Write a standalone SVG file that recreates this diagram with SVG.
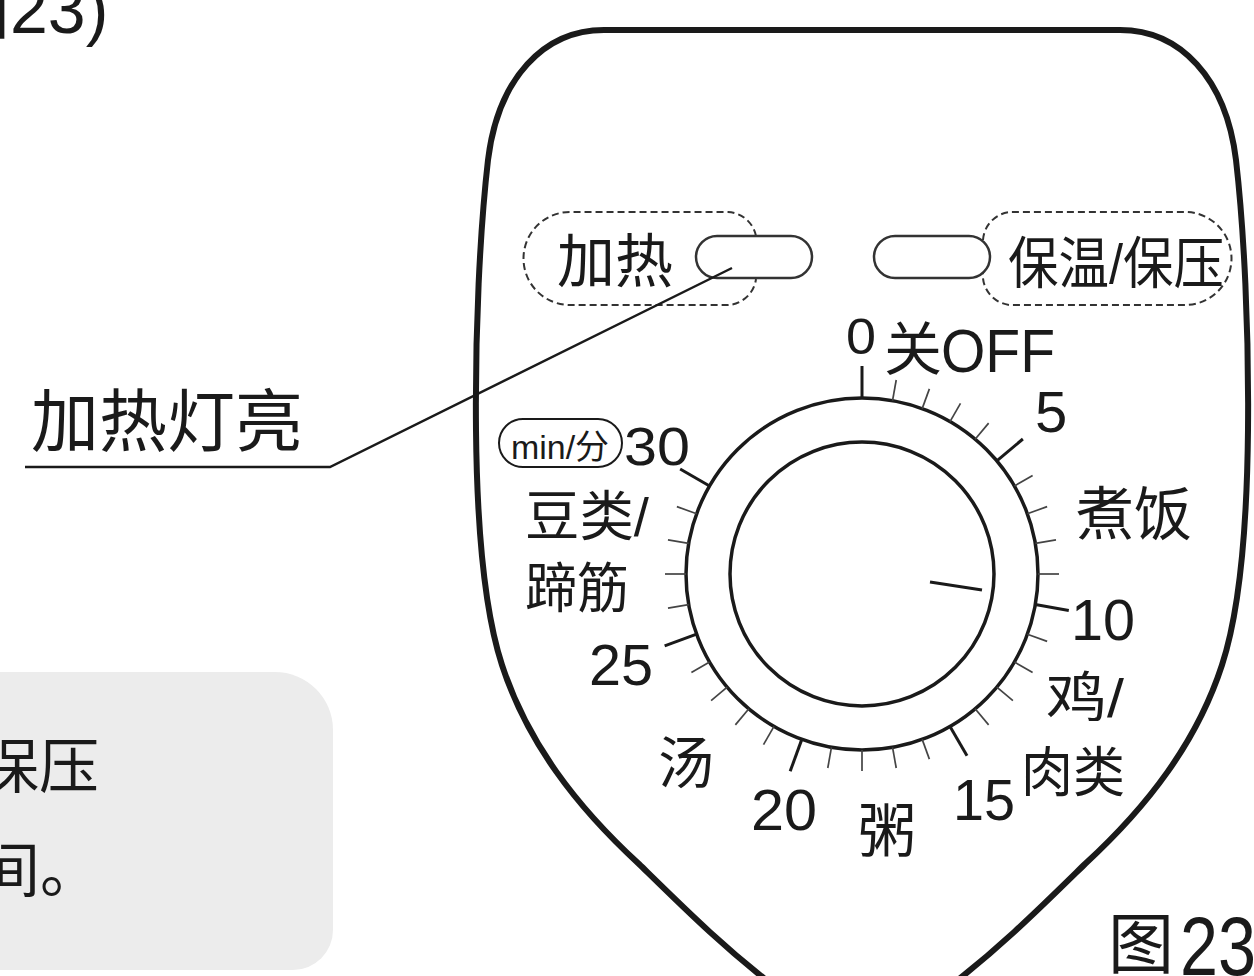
<svg xmlns="http://www.w3.org/2000/svg" width="1254" height="976" viewBox="0 0 1254 976">
<style>
.outline{fill:none;stroke:#1a1a1a;stroke-width:6;stroke-linejoin:round}
.ring{fill:none;stroke:#1a1a1a;stroke-width:3.5}
.major{stroke:#1a1a1a;stroke-width:3}
.minor{stroke:#444;stroke-width:1.7}
.dash{fill:none;stroke:#333;stroke-width:2;stroke-dasharray:7 4}
.pill{fill:#fff;stroke:#333;stroke-width:2.5}
.lead{fill:none;stroke:#1a1a1a;stroke-width:2.5}
.num{font-family:"Liberation Sans",Arial,"Noto Sans CJK SC",sans-serif;fill:#1a1a1a}
.cjk{font-family:"Noto Sans CJK SC","Liberation Sans",sans-serif;fill:#1a1a1a}
.mix{font-family:"Liberation Sans","Noto Sans CJK SC",sans-serif;fill:#1a1a1a}
</style>
<rect width="1254" height="976" fill="#fff"/>

<g id="note-box">
<path d="M -10,672 L 275,672 A 58 58 0 0 1 333,730 L 333,930 A 40 40 0 0 1 293,970 L -10,970 Z" fill="#ececec"/>
<text class="cjk" x="-21" y="788" font-size="60">保压</text>
<text class="cjk" x="-20" y="892" font-size="60">间。</text>
</g>

<g id="top-ref">
<text class="mix" x="-58" y="33" font-size="68">图23)</text>
</g>

<g id="panel">
<path class="outline" d="M 605,30 L 1120,30 C 1180,30 1226,78 1236,160 C 1244,230 1249,330 1248,430 C 1247,530 1240,610 1222,665 C 1197,742 1148,806 1085,864 C 1040,908 1000,948 945,990 L 779,990 C 724,948 684,908 639,864 C 576,806 527,742 502,665 C 484,610 477,530 476,430 C 475,330 480,230 488,160 C 498,78 544,30 604,30 Z"/>
</g>

<g id="heat-indicator">
<path class="dash" d="M 756,236 A 30 30 0 0 0 728,212 L 570,212 A 46.5 46.5 0 0 0 570,305 L 728,305 A 30 30 0 0 0 756,279"/>
<rect class="pill" x="696" y="236" width="116" height="42" rx="21"/>
<text class="cjk" x="557" y="282" font-size="58">加热</text>
</g>

<g id="warm-indicator">
<path class="dash" d="M 983,240 A 30 30 0 0 1 1010,212 L 1185,212 A 46.5 46.5 0 0 1 1185,305 L 1010,305 A 30 30 0 0 1 983,272"/>
<rect class="pill" x="874" y="236" width="116" height="42" rx="21"/>
<text class="mix" x="1008" y="283" font-size="56" textLength="216" lengthAdjust="spacingAndGlyphs">保温/保压</text>
</g>

<g id="dial">
<circle class="ring" cx="862" cy="574" r="176"/>
<circle class="ring" cx="862" cy="574" r="132"/>
<line class="major" x1="930" y1="582" x2="982" y2="590"/>
<g id="ticks">
<line class="major" x1="862" y1="398" x2="862" y2="366"/>
<line class="minor" x1="862" y1="398" x2="862" y2="377" transform="rotate(10 862 574)"/>
<line class="minor" x1="862" y1="398" x2="862" y2="377" transform="rotate(20 862 574)"/>
<line class="minor" x1="862" y1="398" x2="862" y2="377" transform="rotate(30 862 574)"/>
<line class="minor" x1="862" y1="398" x2="862" y2="377" transform="rotate(40 862 574)"/>
<line class="major" x1="862" y1="398" x2="862" y2="364" transform="rotate(50 862 574)"/>
<line class="minor" x1="862" y1="398" x2="862" y2="377" transform="rotate(60 862 574)"/>
<line class="minor" x1="862" y1="398" x2="862" y2="377" transform="rotate(70 862 574)"/>
<line class="minor" x1="862" y1="398" x2="862" y2="377" transform="rotate(80 862 574)"/>
<line class="minor" x1="862" y1="398" x2="862" y2="377" transform="rotate(90 862 574)"/>
<line class="major" x1="862" y1="398" x2="862" y2="364" transform="rotate(100 862 574)"/>
<line class="minor" x1="862" y1="398" x2="862" y2="377" transform="rotate(110 862 574)"/>
<line class="minor" x1="862" y1="398" x2="862" y2="377" transform="rotate(120 862 574)"/>
<line class="minor" x1="862" y1="398" x2="862" y2="377" transform="rotate(130 862 574)"/>
<line class="minor" x1="862" y1="398" x2="862" y2="377" transform="rotate(140 862 574)"/>
<line class="major" x1="862" y1="398" x2="862" y2="364" transform="rotate(150 862 574)"/>
<line class="minor" x1="862" y1="398" x2="862" y2="377" transform="rotate(160 862 574)"/>
<line class="minor" x1="862" y1="398" x2="862" y2="377" transform="rotate(170 862 574)"/>
<line class="minor" x1="862" y1="398" x2="862" y2="377" transform="rotate(180 862 574)"/>
<line class="minor" x1="862" y1="398" x2="862" y2="377" transform="rotate(190 862 574)"/>
<line class="major" x1="862" y1="398" x2="862" y2="364" transform="rotate(200 862 574)"/>
<line class="minor" x1="862" y1="398" x2="862" y2="377" transform="rotate(210 862 574)"/>
<line class="minor" x1="862" y1="398" x2="862" y2="377" transform="rotate(220 862 574)"/>
<line class="minor" x1="862" y1="398" x2="862" y2="377" transform="rotate(230 862 574)"/>
<line class="minor" x1="862" y1="398" x2="862" y2="377" transform="rotate(240 862 574)"/>
<line class="major" x1="862" y1="398" x2="862" y2="364" transform="rotate(250 862 574)"/>
<line class="minor" x1="862" y1="398" x2="862" y2="377" transform="rotate(260 862 574)"/>
<line class="minor" x1="862" y1="398" x2="862" y2="377" transform="rotate(270 862 574)"/>
<line class="minor" x1="862" y1="398" x2="862" y2="377" transform="rotate(280 862 574)"/>
<line class="minor" x1="862" y1="398" x2="862" y2="377" transform="rotate(290 862 574)"/>
<line class="major" x1="862" y1="398" x2="862" y2="364" transform="rotate(300 862 574)"/>
</g>
</g>

<g id="dial-labels">
<text class="num" x="846" y="354" font-size="50" textLength="30" lengthAdjust="spacingAndGlyphs">0</text>
<text class="cjk" x="884" y="370" font-size="58">关</text>
<text class="num" x="941" y="372" font-size="62" textLength="114" lengthAdjust="spacingAndGlyphs">OFF</text>
<text class="num" x="1035" y="432" font-size="58">5</text>
<text class="cjk" x="1076" y="535" font-size="58">煮饭</text>
<text class="num" x="1071" y="640" font-size="58" textLength="64" lengthAdjust="spacingAndGlyphs">10</text>
<text class="mix" x="1046" y="717" font-size="54" textLength="78" lengthAdjust="spacingAndGlyphs">鸡/</text>
<text class="cjk" x="1021" y="792" font-size="54" textLength="104" lengthAdjust="spacingAndGlyphs">肉类</text>
<text class="num" x="953" y="820" font-size="58" textLength="62" lengthAdjust="spacingAndGlyphs">15</text>
<text class="cjk" x="858" y="852" font-size="58">粥</text>
<text class="num" x="751" y="830" font-size="58" textLength="66" lengthAdjust="spacingAndGlyphs">20</text>
<text class="cjk" x="658" y="783" font-size="56">汤</text>
<text class="num" x="589" y="685" font-size="58" textLength="64" lengthAdjust="spacingAndGlyphs">25</text>
<text class="cjk" x="525" y="608" font-size="54" textLength="104" lengthAdjust="spacingAndGlyphs">蹄筋</text>
<text class="mix" x="525" y="536" font-size="54" textLength="124" lengthAdjust="spacingAndGlyphs">豆类/</text>
<text class="num" x="624" y="465" font-size="53" textLength="66" lengthAdjust="spacingAndGlyphs">30</text>
</g>

<g id="unit-badge">
<rect x="499" y="419" width="123" height="48" rx="24" fill="none" stroke="#1a1a1a" stroke-width="2"/>
<text class="mix" x="511" y="459" font-size="34" textLength="98" lengthAdjust="spacingAndGlyphs">min/分</text>
</g>

<g id="callout-label">
<text class="cjk" x="31" y="446" font-size="68">加热灯亮</text>
</g>

<g id="connectors">
<polyline class="lead" points="25,467 330,467 732,268"/>
</g>

<g id="fig-label">
<text class="cjk" x="1108" y="968" font-size="66">图</text>
<text class="num" x="1180" y="975" font-size="84" textLength="76" lengthAdjust="spacingAndGlyphs">23</text>
</g>
</svg>
